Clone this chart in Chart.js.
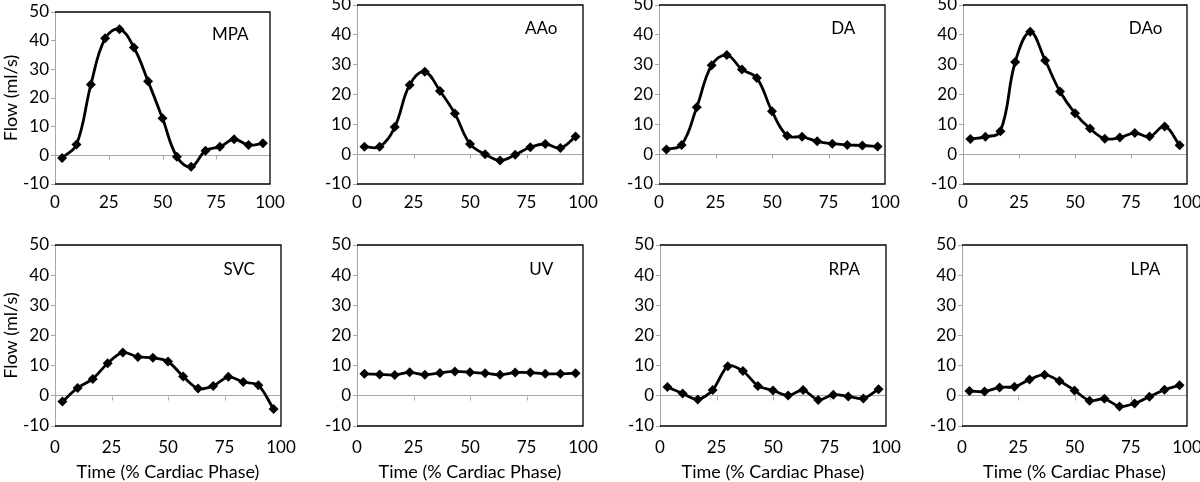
<!DOCTYPE html>
<html>
<head>
<meta charset="utf-8">
<script src="https://cdn.jsdelivr.net/npm/chart.js@4.4.1/dist/chart.umd.min.js"></script>
<style>
  body { margin: 0; background: #fff; }
  #stage { position: relative; width: 1200px; height: 482px; overflow: hidden; background: #fff; }
  #stage canvas { position: absolute; }
</style>
</head>
<body>
<div id="stage"></div>
<script>
// time points (% cardiac phase), 15 frames
const phase = [3.3, 10, 16.7, 23.3, 30, 36.7, 43.3, 50, 56.7, 63.3, 70, 76.7, 83.3, 90, 96.7];

// flow (ml/s) per vessel
const mpa = [-0.9, 3.8, 24.7, 40.8, 44.0, 37.6, 25.8, 12.9, -0.5, -4.0, 1.6, 3.0, 5.6, 3.6, 4.2];
const aao = [2.5, 2.5, 9.1, 23.2, 27.6, 21.2, 13.6, 3.4, 0.0, -2.1, -0.2, 2.3, 3.4, 2.1, 5.9];
const da  = [1.6, 3.1, 15.7, 29.8, 33.2, 28.4, 25.5, 14.4, 6.2, 5.8, 4.3, 3.5, 3.1, 2.9, 2.6];
const dao = [5.1, 5.8, 7.7, 30.9, 41.0, 31.4, 21.0, 13.7, 8.6, 5.2, 5.6, 7.1, 5.9, 9.3, 3.0];
const svc = [-1.9, 2.6, 5.6, 10.8, 14.4, 12.9, 12.6, 11.4, 6.4, 2.4, 3.3, 6.3, 4.6, 3.5, -4.4];
const uv  = [7.3, 7.1, 6.9, 7.8, 7.0, 7.6, 8.1, 7.8, 7.5, 7.0, 7.7, 7.7, 7.3, 7.3, 7.5];
const rpa = [2.9, 0.8, -1.2, 1.9, 9.8, 8.2, 3.3, 1.8, 0.1, 1.9, -1.4, 0.4, -0.2, -0.9, 2.2];
const lpa = [1.6, 1.4, 2.8, 3.0, 5.4, 7.0, 4.9, 1.8, -1.6, -1.0, -3.5, -2.5, -0.3, 2.0, 3.5];

const vesselNames = ['MPA', 'AAo', 'DA', 'DAo', 'SVC', 'UV', 'RPA', 'LPA'];
const xTicks = [0, 25, 50, 75, 100];
const yTicks = [-10, 0, 10, 20, 30, 40, 50];

const FONT = 'Lato, "Open Sans", sans-serif';
const AXIS_GREY = '#a6a6a6';
const Y_AXIS_W = 55;
const PAD_TOP = 12;
const PAD_RIGHT = 22;

// plot boxes [left, top, width, height] in page pixels
const panels = [
  { name: vesselNames[0], values: mpa, box: [55, 12, 215, 172], row: 0, yTitle: true },
  { name: vesselNames[1], values: aao, box: [357, 5, 226, 179], row: 0 },
  { name: vesselNames[2], values: da,  box: [659, 5, 226, 179], row: 0 },
  { name: vesselNames[3], values: dao, box: [963, 5, 224, 179], row: 0 },
  { name: vesselNames[4], values: svc, box: [55, 245, 226, 181], row: 1, yTitle: true },
  { name: vesselNames[5], values: uv,  box: [357, 245, 226, 181], row: 1 },
  { name: vesselNames[6], values: rpa, box: [660, 245, 226, 181], row: 1 },
  { name: vesselNames[7], values: lpa, box: [962, 245, 225, 181], row: 1 },
];

// black frame on top/right/bottom, small ticks on the zero line, panel name
const framePlugin = {
  id: 'frame',
  beforeDatasetsDraw(chart) {
    const { ctx, chartArea: a, scales: { x, y } } = chart;
    ctx.save();
    ctx.strokeStyle = '#000';
    ctx.lineWidth = 1.3;
    ctx.beginPath();
    ctx.moveTo(a.left, a.top);
    ctx.lineTo(a.right, a.top);
    ctx.lineTo(a.right, a.bottom);
    ctx.lineTo(a.left, a.bottom);
    ctx.stroke();
    const y0 = Math.round(y.getPixelForValue(0)) + 0.5;
    ctx.strokeStyle = AXIS_GREY;
    ctx.lineWidth = 1;
    ctx.beginPath();
    xTicks.slice(1, -1).forEach(v => {
      const px = Math.round(x.getPixelForValue(v)) + 0.5;
      ctx.moveTo(px, y0);
      ctx.lineTo(px, y0 + 4);
    });
    ctx.stroke();
    ctx.restore();
  },
  afterDraw(chart, args, opts) {
    const { ctx, scales: { x, y } } = chart;
    ctx.save();
    ctx.fillStyle = '#000';
    ctx.font = '17px ' + FONT;
    ctx.textAlign = 'center';
    ctx.textBaseline = 'middle';
    ctx.fillText(opts.label, x.getPixelForValue(81.5), y.getPixelForValue(42));
    ctx.restore();
  }
};

const stage = document.getElementById('stage');

panels.forEach(p => {
  const [left, top, w, h] = p.box;
  const xH = p.row === 0 ? 30 : 57;
  const canvas = document.createElement('canvas');
  const cw = Y_AXIS_W + w + PAD_RIGHT;
  const ch = PAD_TOP + h + xH;
  canvas.width = cw;
  canvas.height = ch;
  canvas.style.width = cw + 'px';
  canvas.style.height = ch + 'px';
  canvas.style.left = (left - Y_AXIS_W) + 'px';
  canvas.style.top = (top - PAD_TOP) + 'px';
  stage.appendChild(canvas);

  new Chart(canvas, {
    type: 'line',
    data: {
      datasets: [{
        data: phase.map((t, i) => ({ x: t, y: p.values[i] })),
        borderColor: '#000',
        backgroundColor: '#000',
        borderWidth: 2.8,
        tension: p.row === 0 ? 0.4 : 0.3,
        pointStyle: 'rectRot',
        pointRadius: 5,
        pointBorderWidth: 0,
        fill: false,
      }]
    },
    options: {
      responsive: false,
      animation: false,
      devicePixelRatio: 1,
      layout: { padding: { top: PAD_TOP, right: PAD_RIGHT, left: 0, bottom: 0 } },
      plugins: {
        legend: { display: false },
        tooltip: { enabled: false },
        frame: { label: p.name },
      },
      scales: {
        x: {
          type: 'linear',
          min: 0,
          max: 100,
          afterBuildTicks: s => { s.ticks = xTicks.map(v => ({ value: v })); },
          ticks: { color: '#000', font: { family: FONT, size: 17 }, padding: p.row === 0 ? 8 : 11, maxRotation: 0 },
          grid: { display: false, drawTicks: false },
          border: { display: false },
          title: {
            display: p.row === 1,
            text: 'Time (% Cardiac Phase)',
            color: '#000',
            font: { family: FONT, size: 18 },
            padding: 0,
          },
          afterFit(s) { s.height = xH; s.paddingLeft = 0; s.paddingRight = 0; }
        },
        y: {
          min: -10,
          max: 50,
          afterBuildTicks: s => { s.ticks = yTicks.map(v => ({ value: v })); },
          ticks: { color: '#000', font: { family: FONT, size: 17 }, padding: 2 },
          grid: {
            color: c => (c.tick && c.tick.value === 0 ? AXIS_GREY : 'rgba(0,0,0,0)'),
            tickColor: AXIS_GREY,
            tickLength: 4,
            lineWidth: 1,
          },
          border: { display: true, color: AXIS_GREY, width: 1 },
          title: {
            display: !!p.yTitle,
            text: 'Flow (ml/s)',
            color: '#000',
            font: { family: FONT, size: 18 },
            padding: 0,
          },
          afterFit(s) { s.width = Y_AXIS_W; s.paddingTop = 0; s.paddingBottom = 0; }
        }
      }
    },
    plugins: [framePlugin]
  });
});
</script>
</body>
</html>
